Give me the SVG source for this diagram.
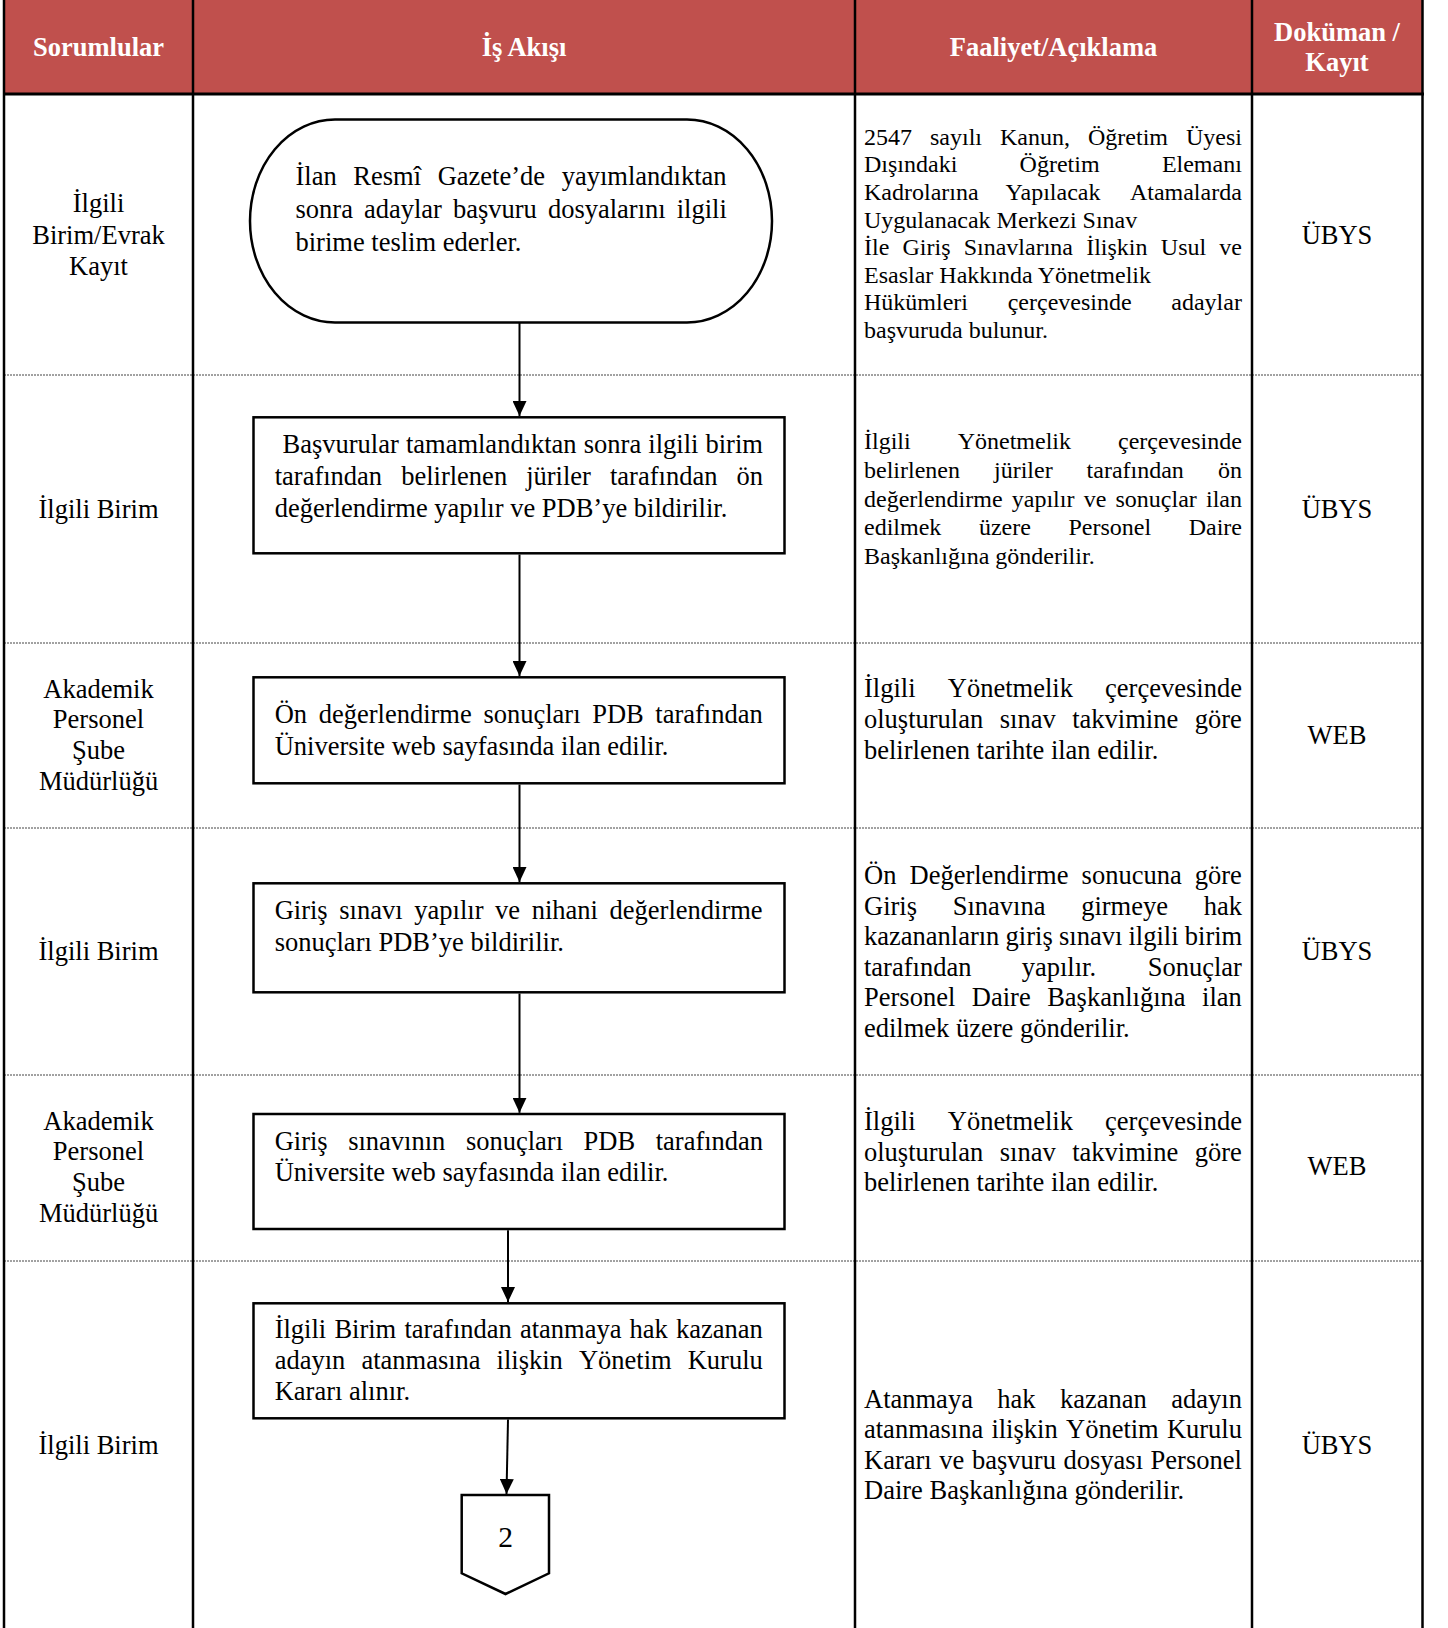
<svg xmlns="http://www.w3.org/2000/svg" width="1448" height="1628" viewBox="0 0 1448 1628">
<style>
.h{font-family:"Liberation Serif","Times New Roman",serif;font-weight:bold;font-size:26.5px;fill:#fff;text-anchor:middle}
.t{font-family:"Liberation Serif","Times New Roman",serif;font-size:26.5px;fill:#000}
.s{font-size:24px}
.c{text-anchor:middle}
.box{fill:#fff;stroke:#000;stroke-width:2.5}
.vl{stroke:#000;stroke-width:2.5}
.dl{stroke:#444;stroke-width:1;stroke-dasharray:2 1}
.cn{stroke:#000;stroke-width:2;fill:none;marker-end:url(#ah)}
</style>
<defs>
<marker id="ah" viewBox="0 0 15 14" refX="15" refY="7" markerWidth="15" markerHeight="14" markerUnits="userSpaceOnUse" orient="auto">
<path d="M0,0 L15,7 L0,14 z" fill="#000"/>
</marker>
</defs>
<rect x="0" y="0" width="1448" height="1628" fill="#fff"/>
<g id="table">
<rect x="4" y="0" width="1418.5" height="94" fill="#C0504D"/>
<line class="dl" x1="4" y1="375" x2="1422" y2="375"/>
<line class="dl" x1="4" y1="643" x2="1422" y2="643"/>
<line class="dl" x1="4" y1="828" x2="1422" y2="828"/>
<line class="dl" x1="4" y1="1075" x2="1422" y2="1075"/>
<line class="dl" x1="4" y1="1261" x2="1422" y2="1261"/>
<line class="vl" x1="4" y1="0" x2="4" y2="1628"/>
<line class="vl" x1="193" y1="0" x2="193" y2="1628"/>
<line class="vl" x1="855" y1="0" x2="855" y2="1628"/>
<line class="vl" x1="1252" y1="0" x2="1252" y2="1628"/>
<line class="vl" x1="1422.5" y1="0" x2="1422.5" y2="1628"/>
<line x1="3" y1="94" x2="1424" y2="94" stroke="#000" stroke-width="3"/>
<text class="h" x="98.5" y="56">Sorumlular</text>
<text class="h" x="524" y="56">İş Akışı</text>
<text class="h" x="1053.5" y="56">Faaliyet/Açıklama</text>
<text class="h" x="1337" y="41">Doküman /</text>
<text class="h" x="1337" y="71">Kayıt</text>
</g>
<g id="responsible">
<text class="t c" x="98.5" y="212">İlgili</text>
<text class="t c" x="98.5" y="243.5">Birim/Evrak</text>
<text class="t c" x="98.5" y="274.5">Kayıt</text>
<text class="t c" x="98.5" y="517.5">İlgili Birim</text>
<text class="t c" x="98.5" y="697.5">Akademik</text>
<text class="t c" x="98.5" y="728.3">Personel</text>
<text class="t c" x="98.5" y="759">Şube</text>
<text class="t c" x="98.5" y="789.5">Müdürlüğü</text>
<text class="t c" x="98.5" y="960">İlgili Birim</text>
<text class="t c" x="98.5" y="1129.5">Akademik</text>
<text class="t c" x="98.5" y="1160.3">Personel</text>
<text class="t c" x="98.5" y="1191">Şube</text>
<text class="t c" x="98.5" y="1221.7">Müdürlüğü</text>
<text class="t c" x="98.5" y="1453.5">İlgili Birim</text>
</g>
<g id="documents">
<text class="t c" x="1337" y="243.5">ÜBYS</text>
<text class="t c" x="1337" y="518">ÜBYS</text>
<text class="t c" x="1337" y="743.5">WEB</text>
<text class="t c" x="1337" y="960">ÜBYS</text>
<text class="t c" x="1337" y="1175">WEB</text>
<text class="t c" x="1337" y="1453.5">ÜBYS</text>
</g>
<g id="descriptions">
<text class="t s" y="144.5"><tspan x="864">2547 </tspan><tspan x="930">sayılı </tspan><tspan x="1000">Kanun, </tspan><tspan x="1088">Öğretim </tspan><tspan x="1186">Üyesi</tspan></text>
<text class="t s" y="172.2"><tspan x="864">Dışındaki </tspan><tspan x="1019.6">Öğretim </tspan><tspan x="1161.9">Elemanı</tspan></text>
<text class="t s" y="199.8"><tspan x="864">Kadrolarına </tspan><tspan x="1005.6">Yapılacak </tspan><tspan x="1129.9">Atamalarda</tspan></text>
<text class="t s" x="864" y="227.5">Uygulanacak Merkezi Sınav</text>
<text class="t s" y="255.1"><tspan x="864">İle </tspan><tspan x="902.5">Giriş </tspan><tspan x="963.7">Sınavlarına </tspan><tspan x="1086.2">İlişkin </tspan><tspan x="1160.8">Usul </tspan><tspan x="1219.3">ve</tspan></text>
<text class="t s" x="864" y="282.8">Esaslar Hakkında Yönetmelik</text>
<text class="t s" y="310.4"><tspan x="864">Hükümleri </tspan><tspan x="1007.7">çerçevesinde </tspan><tspan x="1171.3">adaylar</tspan></text>
<text class="t s" x="864" y="338">başvuruda bulunur.</text>

<text class="t s" y="448.5"><tspan x="864">İlgili </tspan><tspan x="957.7">Yönetmelik </tspan><tspan x="1118">çerçevesinde</tspan></text>
<text class="t s" y="477.5"><tspan x="864">belirlenen </tspan><tspan x="994">jüriler </tspan><tspan x="1086.6">tarafından </tspan><tspan x="1217.9">ön</tspan></text>
<text class="t s" y="506.5"><tspan x="864">değerlendirme </tspan><tspan x="1011.8">yapılır </tspan><tspan x="1083.7">ve </tspan><tspan x="1115.5">sonuçlar </tspan><tspan x="1206">ilan</tspan></text>
<text class="t s" y="535.3"><tspan x="864">edilmek </tspan><tspan x="978.9">üzere </tspan><tspan x="1068.5">Personel </tspan><tspan x="1188.7">Daire</tspan></text>
<text class="t s" x="864" y="564">Başkanlığına gönderilir.</text>

<text class="t" y="697"><tspan x="864">İlgili </tspan><tspan x="947.8">Yönetmelik </tspan><tspan x="1105.1">çerçevesinde</tspan></text>
<text class="t" y="727.8"><tspan x="864">oluşturulan </tspan><tspan x="999.8">sınav </tspan><tspan x="1072.2">takvimine </tspan><tspan x="1194.8">göre</tspan></text>
<text class="t" x="864" y="758.5">belirlenen tarihte ilan edilir.</text>

<text class="t" y="884"><tspan x="864">Ön </tspan><tspan x="909.5">Değerlendirme </tspan><tspan x="1081.6">sonucuna </tspan><tspan x="1194.8">göre</tspan></text>
<text class="t" y="914.6"><tspan x="864">Giriş </tspan><tspan x="952.7">Sınavına </tspan><tspan x="1081.2">girmeye </tspan><tspan x="1203.8">hak</tspan></text>
<text class="t" y="945.2"><tspan x="864">kazananların </tspan><tspan x="1005.6">giriş </tspan><tspan x="1059">sınavı </tspan><tspan x="1128.5">ilgili </tspan><tspan x="1184.8">birim</tspan></text>
<text class="t" y="975.8"><tspan x="864">tarafından </tspan><tspan x="1021.7">yapılır. </tspan><tspan x="1147.7">Sonuçlar</tspan></text>
<text class="t" y="1006.4"><tspan x="864">Personel </tspan><tspan x="971.8">Daire </tspan><tspan x="1047.2">Başkanlığına </tspan><tspan x="1202.1">ilan</tspan></text>
<text class="t" x="864" y="1037">edilmek üzere gönderilir.</text>

<text class="t" y="1130"><tspan x="864">İlgili </tspan><tspan x="947.8">Yönetmelik </tspan><tspan x="1105.1">çerçevesinde</tspan></text>
<text class="t" y="1160.6"><tspan x="864">oluşturulan </tspan><tspan x="999.8">sınav </tspan><tspan x="1072.2">takvimine </tspan><tspan x="1194.8">göre</tspan></text>
<text class="t" x="864" y="1191.2">belirlenen tarihte ilan edilir.</text>

<text class="t" y="1407.5"><tspan x="864">Atanmaya </tspan><tspan x="997.3">hak </tspan><tspan x="1060">kazanan </tspan><tspan x="1171.3">adayın</tspan></text>
<text class="t" y="1438.2"><tspan x="864">atanmasına </tspan><tspan x="991.4">ilişkin </tspan><tspan x="1066">Yönetim </tspan><tspan x="1166.9">Kurulu</tspan></text>
<text class="t" y="1468.8"><tspan x="864">Kararı </tspan><tspan x="939.3">ve </tspan><tspan x="972">başvuru </tspan><tspan x="1063.5">dosyası </tspan><tspan x="1150.6">Personel</tspan></text>
<text class="t" x="864" y="1499.4">Daire Başkanlığına gönderilir.</text>
</g>
<g id="connectors">
<line class="cn" x1="519.5" y1="322.5" x2="519.5" y2="416"/>
<line class="cn" x1="519.5" y1="554.5" x2="519.5" y2="676"/>
<line class="cn" x1="519.5" y1="784.5" x2="519.5" y2="882"/>
<line class="cn" x1="519.5" y1="993.5" x2="519.5" y2="1112.8"/>
<line class="cn" x1="508" y1="1230.2" x2="508" y2="1302"/>
<line class="cn" x1="508" y1="1419.5" x2="506.5" y2="1494"/>
</g>
<g id="n1">
<rect class="box" x="250" y="119.5" width="522" height="203" rx="85" ry="101.5"/>
<text class="t" y="185"><tspan x="295.5">İlan </tspan><tspan x="353.3">Resmî </tspan><tspan x="437.7">Gazete’de </tspan><tspan x="561.7">yayımlandıktan</tspan></text>
<text class="t" y="218"><tspan x="295.5">sonra </tspan><tspan x="363.9">adaylar </tspan><tspan x="452.9">başvuru </tspan><tspan x="547.9">dosyalarını </tspan><tspan x="676.7">ilgili</tspan></text>
<text class="t" x="295.5" y="250.5">birime teslim ederler.</text>
</g>
<g id="n2">
<rect class="box" x="253.5" y="417.3" width="531" height="136"/>
<text class="t" y="453"><tspan x="282.5">Başvurular </tspan><tspan x="405.9">tamamlandıktan </tspan><tspan x="583.8">sonra </tspan><tspan x="648.3">ilgili </tspan><tspan x="705.5">birim</tspan></text>
<text class="t" y="485"><tspan x="274.7">tarafından </tspan><tspan x="401.2">belirlenen </tspan><tspan x="526.2">jüriler </tspan><tspan x="610">tarafından </tspan><tspan x="736.4">ön</tspan></text>
<text class="t" x="274.7" y="517">değerlendirme yapılır ve PDB’ye bildirilir.</text>
</g>
<g id="n3">
<rect class="box" x="253.5" y="677.3" width="531" height="106"/>
<text class="t" y="723"><tspan x="274.7">Ön </tspan><tspan x="318.7">değerlendirme </tspan><tspan x="483.4">sonuçları </tspan><tspan x="592.2">PDB </tspan><tspan x="655.3">tarafından</tspan></text>
<text class="t" x="274.7" y="754.5">Üniversite web sayfasında ilan edilir.</text>
</g>
<g id="n4">
<rect class="box" x="253.5" y="883.3" width="531" height="109"/>
<text class="t" y="919"><tspan x="274.7">Giriş </tspan><tspan x="339.3">sınavı </tspan><tspan x="414.3">yapılır </tspan><tspan x="495.1">ve </tspan><tspan x="531.7">nihani </tspan><tspan x="609.6">değerlendirme</tspan></text>
<text class="t" x="274.7" y="951">sonuçları PDB’ye bildirilir.</text>
</g>
<g id="n5">
<rect class="box" x="253.5" y="1114" width="531" height="115"/>
<text class="t" y="1149.5"><tspan x="274.7">Giriş </tspan><tspan x="348.2">sınavının </tspan><tspan x="465.9">sonuçları </tspan><tspan x="583.6">PDB </tspan><tspan x="655.7">tarafından</tspan></text>
<text class="t" x="274.7" y="1181">Üniversite web sayfasında ilan edilir.</text>
</g>
<g id="n6">
<rect class="box" x="253.5" y="1303.3" width="531" height="115"/>
<text class="t" y="1338"><tspan x="274.7">İlgili </tspan><tspan x="334.4">Birim </tspan><tspan x="404.4">tarafından </tspan><tspan x="519.9">atanmaya </tspan><tspan x="629.6">hak </tspan><tspan x="676">kazanan</tspan></text>
<text class="t" y="1369"><tspan x="274.7">adayın </tspan><tspan x="361.4">atanmasına </tspan><tspan x="496.6">ilişkin </tspan><tspan x="578.9">Yönetim </tspan><tspan x="687.7">Kurulu</tspan></text>
<text class="t" x="274.7" y="1400">Kararı alınır.</text>
</g>
<g id="n7">
<polygon class="box" points="461.7,1495 549,1495 549,1573.3 505.5,1594 461.7,1573.3"/>
<text class="t c" x="505.5" y="1546.5" style="font-size:29.5px">2</text>
</g>
</svg>
